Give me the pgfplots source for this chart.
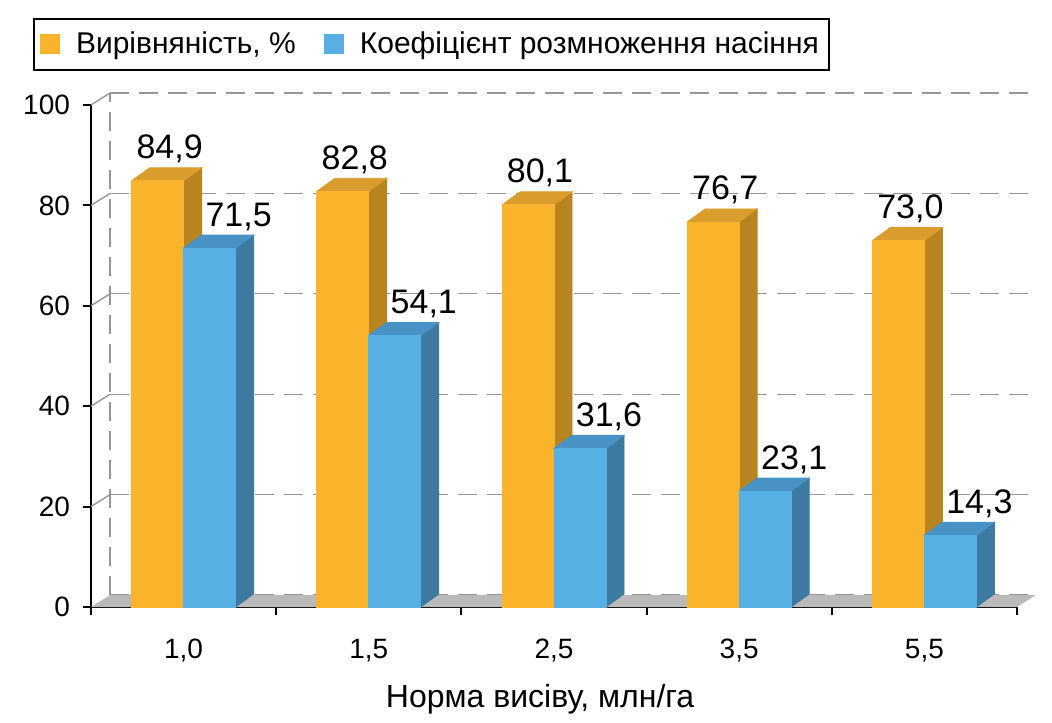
\documentclass[border=0pt]{standalone}
\usepackage{pgfplots}
\usepackage{pgfplotstable}
\pgfplotsset{compat=1.18}
\usepackage{fontspec}
\setmainfont{Liberation Sans}
\definecolor{ofront}{RGB}{250,180,44}
\definecolor{otop}{RGB}{218,156,44}
\definecolor{oside}{RGB}{184,132,32}
\definecolor{bfront}{RGB}{86,176,228}
\definecolor{btop}{RGB}{72,146,198}
\definecolor{bside}{RGB}{60,122,162}
\definecolor{floorgray}{RGB}{186,186,186}
\definecolor{gridgray}{RGB}{150,150,150}
\pgfdeclareplotmark{emptymark}{}
\pgfplotstableread{
x o b
0 84.9 71.5
1 82.8 54.1
2 80.1 31.6
3 76.7 23.1
4 73.0 14.3
}\datatable
% 3D box drawn at each data point (origin = category centre, bar top)
\newcommand\facecode[4]{%
  \pgfmathsetlengthmacro\hh{\h*2.51pt}%
  \fill[#4] (#1+26pt,0pt) -- ++(9pt,6.5pt) -- ++(0pt,-\hh) -- (#1+26pt,-\hh) -- cycle;
  \fill[#3] (#1,0pt) -- (#1+26pt,0pt) -- ++(9pt,6.5pt) -- (#1+9pt,6.5pt) -- cycle;
  \fill[#2] (#1,0pt) rectangle (#1+26pt,-\hh);
}
\begin{document}
\begin{tikzpicture}
\path[use as bounding box] (-45.5pt,-57.5pt) rectangle (480.5pt,303.5pt);
\begin{axis}[
  at={(0,0)}, anchor=south west,
  x=92.6pt, y=2.51pt,
  xmin=-0.5, xmax=4.5, ymin=0, ymax=100,
  clip=false,
  axis x line*=bottom, axis y line*=left,
  axis line style={line width=1pt, black},
  tick align=outside,
  ytick={0,20,...,100},
  xtick={0,1,2,3,4},
  xticklabels={{1,0},{1,5},{2,5},{3,5},{5,5}},
  minor xtick={-0.5,0.5,1.5,2.5,3.5,4.5},
  major x tick style={draw=none},
  minor x tick style={line width=1pt, black},
  minor tick length=4pt,
  major y tick style={line width=1pt, black},
  major tick length=4pt,
  ymajorgrids,
  extra x ticks={-0.5},
  extra x tick labels={},
  extra x tick style={grid=major},
  major grid style={gridgray, line width=0.7pt, dash pattern=on 9.5pt off 5pt, xshift=9.5pt, yshift=6pt},
  tick label style={font=\fontsize{14}{16}\selectfont},
  /pgf/number format/assume math mode=true,
  xticklabel style={yshift=-8.5pt},
  yticklabel style={xshift=-3pt},
  xlabel={Норма висіву, млн/га},
  xlabel style={font=\fontsize{16}{18}\selectfont, at={(axis description cs:0.485,0)}, anchor=base, yshift=-50pt},
  legend columns=2,
  legend style={at={(-0.0626,1.1733)}, anchor=north west, draw=black, line width=1pt,
    font=\fontsize{15}{17}\selectfont, inner xsep=3pt, inner ysep=4.5pt,
    /tikz/every odd column/.append style={column sep=6pt},
    /tikz/every even column/.append style={column sep=12pt}},
  legend image code/.code={\fill[#1] (0pt,-5pt) rectangle (10pt,5pt);},
  every node near coord/.append style={font=\fontsize{17}{20}\selectfont, anchor=base, yshift=11pt},
  nodes near coords={\pgfmathprintnumber[fixed,fixed zerofill,precision=1,use comma,assume math mode=true]{\pgfplotspointmeta}},
]
% floor
\fill[floorgray] (axis cs:-0.5,0) -- (axis cs:4.5,0) -- ++(9.5pt,6pt) -- ++(-463pt,0pt) -- cycle;
\pgfplotsinvokeforeach{20,40,60,80,100}{
  \draw[gridgray, line width=0.7pt] (axis cs:-0.5,#1) -- ++(9.5pt,6pt);
}
% orange series
\addplot[ybar, bar width=26pt, bar shift=-13pt, fill=ofront, draw=none,
  every node near coord/.append style={xshift=-7pt}]
  table[x=x,y=o]{\datatable};
\addlegendentry{Вирівняність, \%}
\addplot[only marks, mark=emptymark, scatter, forget plot, nodes near coords={},
  visualization depends on={rawy \as \h},
  scatter/@pre marker code/.code={\facecode{-26pt}{ofront}{otop}{oside}},
  scatter/@post marker code/.code={}]
  table[x=x,y=o]{\datatable};
% blue series
\addplot[ybar, bar width=26pt, bar shift=13pt, fill=bfront, draw=none,
  every node near coord/.append style={xshift=27.5pt}]
  table[x=x,y=b]{\datatable};
\addlegendentry{Коефіцієнт розмноження насіння}
\addplot[only marks, mark=emptymark, scatter, forget plot, nodes near coords={},
  visualization depends on={rawy \as \h},
  scatter/@pre marker code/.code={\facecode{0pt}{bfront}{btop}{bside}},
  scatter/@post marker code/.code={}]
  table[x=x,y=b]{\datatable};
\end{axis}
\end{tikzpicture}
\end{document}
